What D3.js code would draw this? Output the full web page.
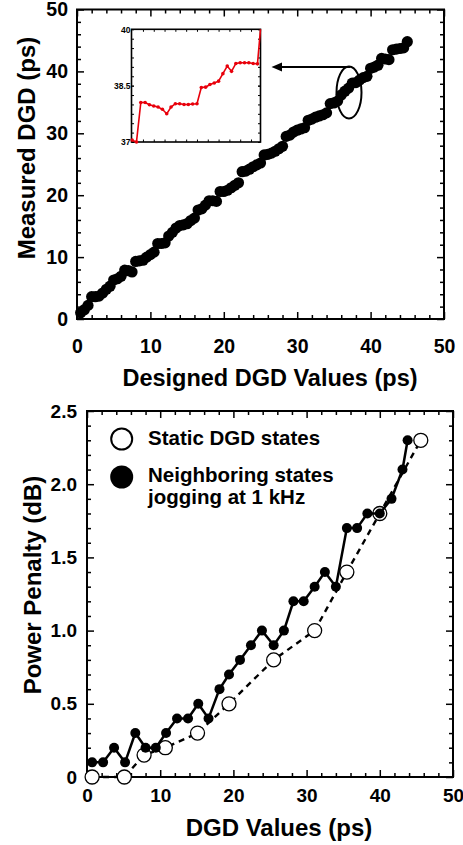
<!DOCTYPE html>
<html>
<head>
<meta charset="utf-8">
<script src="https://cdn.jsdelivr.net/npm/d3@7/dist/d3.min.js"></script>
<style>
    body { margin: 0; background: #fff; }
    svg text { font-family: "Liberation Sans", Arial, Helvetica, sans-serif; font-weight: bold; fill: #000; }
</style>
</head>
<body>
<div id="my_dataviz"></div>
<script>
// ---------------------------  DATA  ---------------------------

// Top panel: measured DGD against the designed DGD (ps)
const designed_dgd = [0.5, 1.0, 1.5, 2.0, 2.5, 3.0, 3.5, 4.0, 4.5, 5.0, 5.5, 6.0, 6.5, 7.0, 7.5, 8.0, 8.5, 9.0, 9.5, 10.0,
    10.5, 11.0, 11.5, 12.0, 12.5, 13.0, 13.5, 14.0, 14.5, 15.0, 15.5, 16.0, 16.5, 17.0, 17.5, 18.0, 18.5, 19.0, 19.5, 20.0,
    20.5, 21.0, 21.5, 22.0, 22.5, 23.0, 23.5, 24.0, 24.5, 25.0, 25.5, 26.0, 26.5, 27.0, 27.5, 28.0, 28.5, 29.0, 29.5, 30.0,
    30.5, 31.0, 31.5, 32.0, 32.5, 33.0, 33.5, 34.0, 34.5, 35.0, 35.5, 36.0, 36.5, 37.0, 37.5, 38.0, 38.5, 39.0, 39.5, 40.0,
    40.5, 41.0, 41.5, 42.0, 42.5, 43.0, 43.5, 44.0, 44.5, 45.0];
const measured_dgd = [1.0, 1.5, 2.2, 3.6, 3.6, 3.7, 4.2, 4.8, 5.3, 6.3, 6.5, 6.9, 7.9, 7.8, 7.6, 9.3, 9.4, 9.5, 10.0, 10.4,
    10.8, 12.2, 12.2, 12.3, 13.4, 14.0, 14.7, 15.1, 15.2, 15.4, 15.9, 16.3, 17.6, 17.8, 18.4, 19.1, 19.1, 19.0, 20.6, 20.6,
    20.8, 21.2, 21.6, 22.0, 23.8, 23.9, 24.2, 24.6, 24.9, 25.2, 26.5, 26.6, 26.8, 27.1, 27.5, 27.9, 29.5, 29.7, 30.2, 30.5,
    30.7, 30.9, 32.1, 32.3, 32.6, 32.8, 33.0, 33.3, 34.8, 34.9, 35.2, 36.2, 36.8, 37.3, 38.1, 38.2, 38.6, 39.0, 39.2, 40.5,
    40.7, 41.0, 42.1, 42.0, 41.9, 43.5, 43.6, 43.7, 43.8, 44.8];

// Inset: zoom on the 37-40 ps step (sample index, ps)
const inset_index = [0, 1, 2, 3, 4, 5, 6, 7, 8, 9, 10, 11, 12, 13, 14, 15, 16, 17, 18, 19, 20, 21, 22, 23, 24, 25, 26, 27, 28, 29, 29.7];
const inset_dgd = [37.05, 37.0, 38.05, 38.05, 37.99, 37.96, 37.93, 37.87, 37.75, 37.93, 38.02, 38.02, 38.0, 38.0, 38.01, 38.02,
    38.45, 38.46, 38.53, 38.57, 38.62, 38.82, 39.02, 38.88, 39.09, 39.11, 39.11, 39.11, 39.09, 39.08, 40.0];
const inset_y_labels = [37, 38.5, 40];

// Bottom panel: power penalty (dB) against DGD (ps)
const static_dgd = [0.7, 5.1, 7.8, 10.7, 15.1, 19.4, 25.5, 31.1, 35.5, 40.0, 45.6];
const static_penalty = [0, 0, 0.15, 0.2, 0.3, 0.5, 0.8, 1.0, 1.4, 1.8, 2.3];

const jogging_dgd = [0.7, 2.2, 3.7, 5.2, 6.6, 8.0, 9.4, 10.8, 12.3, 13.8, 15.2, 16.6, 18.1, 19.4, 20.9, 22.4,
    23.9, 25.5, 26.9, 28.2, 29.6, 31.1, 32.5, 34.0, 35.5, 36.9, 38.3, 40.0, 41.6, 43.1, 43.8];
const jogging_penalty = [0.1, 0.1, 0.2, 0.1, 0.3, 0.2, 0.2, 0.3, 0.4, 0.4, 0.5, 0.4, 0.6, 0.7, 0.8, 0.9,
    1.0, 0.9, 1.0, 1.2, 1.2, 1.3, 1.4, 1.3, 1.7, 1.7, 1.8, 1.8, 1.9, 2.1, 2.3];

// tick values
const dgd_major = [0, 10, 20, 30, 40, 50];
const dgd_minor = [2, 4, 6, 8, 12, 14, 16, 18, 22, 24, 26, 28, 32, 34, 36, 38, 42, 44, 46, 48];
const penalty_major = [0, 0.5, 1.0, 1.5, 2.0, 2.5];
const penalty_minor = [0.1, 0.2, 0.3, 0.4, 0.6, 0.7, 0.8, 0.9, 1.1, 1.2, 1.3, 1.4, 1.6, 1.7, 1.8, 1.9, 2.1, 2.2, 2.3, 2.4];
const inset_x_ticks = [2.5, 5, 7.5, 10, 12.5, 15, 17.5, 20, 22.5, 25, 27.5];
const inset_y_ticks = [37.25, 37.5, 37.75, 38, 38.25, 38.5, 38.75, 39, 39.25, 39.5, 39.75];

const legend_labels = ["Static DGD states", "Neighboring states", "jogging at 1 kHz"];


// ---------------------------  DRAWING  ---------------------------

const svg = d3.select("#my_dataviz")
    .append("svg")
        .attr("width", 463)
        .attr("height", 845);


// Box with inward ticks on all four sides; labels only on bottom and left
function draw_frame(x, y, opts)
{
    const g = svg.append("g");
    const [x0, x1] = x.range(), [y0, y1] = y.range();

    const sides = [
        { make: d3.axisBottom, scale: x, at: `translate(0,${y0})`, vals: opts.xMajor, minor: opts.xMinor, label: true,  isX: true },
        { make: d3.axisTop,    scale: x, at: `translate(0,${y1})`, vals: opts.xMajor, minor: opts.xMinor, label: false, isX: true },
        { make: d3.axisLeft,   scale: y, at: `translate(${x0},0)`, vals: opts.yMajor, minor: opts.yMinor, label: true,  isX: false },
        { make: d3.axisRight,  scale: y, at: `translate(${x1},0)`, vals: opts.yMajor, minor: opts.yMinor, label: false, isX: false },
    ];

    sides.forEach(s => {
        // minor ticks
        g.append("g").attr("transform", s.at)
            .call(s.make(s.scale).tickValues(s.minor).tickSizeInner(-opts.minorLen).tickSizeOuter(0).tickFormat(""))
            .call(a => a.select(".domain").remove())
            .selectAll("line").attr("stroke-width", opts.tickWidth);

        // major ticks (+ labels)
        const ax = s.make(s.scale)
            .tickValues(s.vals)
            .tickSizeInner(-opts.majorLen)
            .tickSizeOuter(0)
            .tickPadding(s.isX ? opts.xPad : opts.yPad)
            .tickFormat(s.label ? (s.isX ? opts.xFormat : opts.yFormat) : "");
        const a = g.append("g").attr("transform", s.at).call(ax);
        a.select(".domain").remove();
        a.selectAll("line").attr("stroke-width", opts.tickWidth);
        a.selectAll("text")
            .attr("font-size", opts.fontSize)
            .attr("font-family", null)
            .style("fill", "#000");
    });

    g.append("rect")
        .attr("x", x0).attr("y", y1)
        .attr("width", x1 - x0).attr("height", y0 - y1)
        .attr("fill", "none")
        .attr("stroke", "#000")
        .attr("stroke-width", opts.frameWidth);

    return g;
}


// ---------- top panel ----------
const xTop = d3.scaleLinear().domain([0, 50]).range([77, 444]);
const yTop = d3.scaleLinear().domain([0, 50]).range([319, 9.5]);

const topFrame = draw_frame(xTop, yTop, {
    xMajor: dgd_major, xMinor: dgd_minor, yMajor: dgd_major, yMinor: dgd_minor,
    majorLen: 7, minorLen: 4, tickWidth: 1.5, frameWidth: 2,
    xPad: 20, yPad: 9, fontSize: 19.5,
    xFormat: d3.format("d"), yFormat: d3.format("d")
});
// the "0" on the y axis sits a bit lower, clear of the x labels
topFrame.selectAll(".tick text").filter(function(d) {
    return d === 0 && d3.select(this).attr("text-anchor") === "end";
}).attr("dy", "0.72em");

svg.append("g")
    .selectAll("circle")
    .data(designed_dgd)
    .join("circle")
        .attr("cx", d => xTop(d))
        .attr("cy", (d, i) => yTop(measured_dgd[i]))
        .attr("r", 5.6)
        .attr("fill", "#000");

svg.append("text")
    .attr("x", 270).attr("y", 386)
    .attr("text-anchor", "middle")
    .attr("font-size", 23.5)
    .text("Designed DGD Values (ps)");

svg.append("text")
    .attr("transform", "translate(35,148) rotate(-90)")
    .attr("text-anchor", "middle")
    .attr("font-size", 24)
    .text("Measured DGD (ps)");

// ellipse around the 37-40 ps region and arrow to the inset
svg.append("ellipse")
    .attr("cx", 349).attr("cy", 92.5)
    .attr("rx", 12.5).attr("ry", 26)
    .attr("fill", "none").attr("stroke", "#000").attr("stroke-width", 2);

svg.append("line")
    .attr("x1", 350).attr("y1", 67)
    .attr("x2", 280).attr("y2", 67)
    .attr("stroke", "#000").attr("stroke-width", 2);

svg.append("path")
    .attr("d", "M271.5,67 L282,62.5 L282,71.5 Z")
    .attr("fill", "#000");


// ---------- inset ----------
const xIn = d3.scaleLinear().domain([-0.15, 29.7]).range([131.5, 260.5]);
const yIn = d3.scaleLinear().domain([37, 40]).range([142, 29.3]);

svg.append("rect")
    .attr("x", 131.5).attr("y", 29.3)
    .attr("width", 129).attr("height", 112.7)
    .attr("fill", "#fff");

draw_frame(xIn, yIn, {
    xMajor: [], xMinor: inset_x_ticks, yMajor: inset_y_labels, yMinor: inset_y_ticks,
    majorLen: 2.5, minorLen: 2.5, tickWidth: 1, frameWidth: 1.6,
    xPad: 3, yPad: 1, fontSize: 8.5,
    xFormat: "", yFormat: d3.format("")
});

const insetLine = d3.line()
    .x(d => xIn(d))
    .y((d, i) => yIn(inset_dgd[i]));

svg.append("path")
    .datum(inset_index)
    .attr("d", insetLine)
    .attr("fill", "none")
    .attr("stroke", "#e8000b")
    .attr("stroke-width", 1.6);

svg.append("g")
    .selectAll("circle")
    .data(inset_index.slice(0, -1))
    .join("circle")
        .attr("cx", d => xIn(d))
        .attr("cy", (d, i) => yIn(inset_dgd[i]))
        .attr("r", 1.8)
        .attr("fill", "#e8000b");


// ---------- bottom panel ----------
const xBot = d3.scaleLinear().domain([0, 50]).range([87, 453]);
const yBot = d3.scaleLinear().domain([0, 2.5]).range([777, 411]);

const botFrame = draw_frame(xBot, yBot, {
    xMajor: dgd_major, xMinor: dgd_minor, yMajor: penalty_major, yMinor: penalty_minor,
    majorLen: 7, minorLen: 4, tickWidth: 1.5, frameWidth: 2,
    xPad: 12, yPad: 10, fontSize: 19,
    xFormat: d3.format("d"),
    yFormat: d => d === 0 ? "0" : d3.format(".1f")(d)
});
botFrame.selectAll(".tick text").filter(function(d) {
    return d === 0 && d3.select(this).attr("text-anchor") === "end";
}).attr("dy", "0.45em");

// static states: dashed line + open circles
svg.append("path")
    .datum(static_dgd)
    .attr("d", d3.line().x(d => xBot(d)).y((d, i) => yBot(static_penalty[i])))
    .attr("fill", "none")
    .attr("stroke", "#000")
    .attr("stroke-width", 2.4)
    .attr("stroke-dasharray", "6,5");

svg.append("g")
    .selectAll("circle")
    .data(static_dgd)
    .join("circle")
        .attr("cx", d => xBot(d))
        .attr("cy", (d, i) => yBot(static_penalty[i]))
        .attr("r", 7)
        .attr("fill", "#fff")
        .attr("stroke", "#000")
        .attr("stroke-width", 1.3);

// jogging states: solid line + filled circles
svg.append("path")
    .datum(jogging_dgd)
    .attr("d", d3.line().x(d => xBot(d)).y((d, i) => yBot(jogging_penalty[i])))
    .attr("fill", "none")
    .attr("stroke", "#000")
    .attr("stroke-width", 2.5);

svg.append("g")
    .selectAll("circle")
    .data(jogging_dgd)
    .join("circle")
        .attr("cx", d => xBot(d))
        .attr("cy", (d, i) => yBot(jogging_penalty[i]))
        .attr("r", 5)
        .attr("fill", "#000");

// legend
svg.append("circle")
    .attr("cx", 121.7).attr("cy", 439)
    .attr("r", 10.5)
    .attr("fill", "#fff").attr("stroke", "#000").attr("stroke-width", 2);
svg.append("circle")
    .attr("cx", 121.7).attr("cy", 477)
    .attr("r", 11.5)
    .attr("fill", "#000");

svg.append("g")
    .selectAll("text")
    .data(legend_labels)
    .join("text")
        .attr("x", 148)
        .attr("y", (d, i) => [445, 482, 504][i])
        .attr("font-size", 20.5)
        .text(d => d);

svg.append("text")
    .attr("x", 279).attr("y", 836)
    .attr("text-anchor", "middle")
    .attr("font-size", 24)
    .text("DGD Values (ps)");

svg.append("text")
    .attr("transform", "translate(41,585) rotate(-90)")
    .attr("text-anchor", "middle")
    .attr("font-size", 24)
    .text("Power Penalty (dB)");
</script>
</body>
</html>
